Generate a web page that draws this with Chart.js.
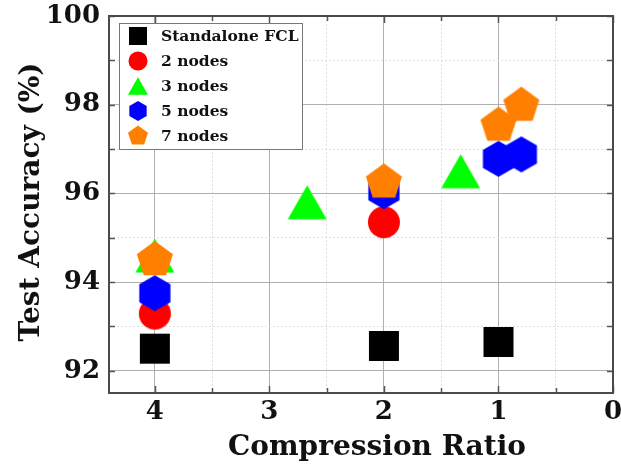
<!DOCTYPE html>
<html>
<head>
<meta charset="utf-8">
<script src="https://cdn.jsdelivr.net/npm/chart.js@4.4.0/dist/chart.umd.min.js"></script>
<style>
html, body { margin: 0; padding: 0; background: #fff; }
</style>
</head>
<body>
<canvas id="accChart" width="621" height="466"></canvas>
<script>
// values
const seriesNames = ['Standalone FCL', '2 nodes', '3 nodes', '5 nodes', '7 nodes'];
const fclX = [4, 2, 1];
const fclY = [92.5, 92.56, 92.65];
const n2X = [4, 2];
const n2Y = [93.29, 95.35];
const n3X = [4, 2.67, 1.33];
const n3Y = [94.6, 95.8, 96.5];
const n5X = [4, 2, 1, 0.8];
const n5Y = [93.75, 96.05, 96.78, 96.88];
const n7X = [4, 2, 1, 0.8];
const n7Y = [94.5, 96.25, 97.53, 97.98];

const xTickValues = [0, 0.5, 1, 1.5, 2, 2.5, 3, 3.5, 4];
const yTickValues = [92, 93, 94, 95, 96, 97, 98, 99, 100];

// look of each series
const seriesColors = ['#000000', '#ff0000', '#00ff00', '#0000ff', '#ff8000'];
const seriesShapes = ['square', 'circle', 'triangle', 'hexagon', 'pentagon'];
const markerSize = { square: 15, circle: 16, triangle: 19.5, hexagon: 18, pentagon: 19 };
const legendSize = { square: 9, circle: 9.5, triangle: 10, hexagon: 10, pentagon: 10.5 };

const FONT = '"DejaVu Serif", serif';

function shapePath(ctx, kind, cx, cy, s) {
  ctx.beginPath();
  if (kind === 'square') {
    ctx.rect(cx - s, cy - s, 2 * s, 2 * s);
  } else if (kind === 'circle') {
    ctx.arc(cx, cy, s, 0, Math.PI * 2);
  } else if (kind === 'triangle') {
    let h = s * 0.87;
    ctx.moveTo(cx, cy - h);
    ctx.lineTo(cx + s, cy + h);
    ctx.lineTo(cx - s, cy + h);
  } else {
    let n = kind === 'hexagon' ? 6 : 5;
    for (let i = 0; i < n; i++) {
      let a = -Math.PI / 2 + i * 2 * Math.PI / n;
      let px = cx + s * Math.cos(a), py = cy + s * Math.sin(a);
      if (i === 0) ctx.moveTo(px, py); else ctx.lineTo(px, py);
    }
  }
  ctx.closePath();
}

function makeMarker(kind, color, s) {
  const c = document.createElement('canvas');
  const d = Math.ceil(s * 2 + 4);
  c.width = d; c.height = d;
  const g = c.getContext('2d');
  g.fillStyle = color;
  shapePath(g, kind, d / 2, d / 2, s);
  g.fill();
  return c;
}

function toPoints(xs, ys) {
  return xs.map((x, i) => ({ x: x, y: ys[i] }));
}

const seriesData = [
  toPoints(fclX, fclY),
  toPoints(n2X, n2Y),
  toPoints(n3X, n3Y),
  toPoints(n5X, n5Y),
  toPoints(n7X, n7Y)
];

// later series are painted on top (orange over blue over red ...)
const datasets = seriesNames.map((name, i) => ({
  label: name,
  data: seriesData[i],
  order: seriesNames.length - i,
  pointStyle: makeMarker(seriesShapes[i], seriesColors[i], markerSize[seriesShapes[i]]),
  backgroundColor: seriesColors[i],
  borderColor: seriesColors[i],
  showLine: false
}));

const xMajor = v => Number.isInteger(v);
const yMajor = v => v % 2 === 0;

// frame, inward ticks, legend box and axis titles
const decorPlugin = {
  id: 'decor',
  beforeDatasetsDraw(chart) {
    const ctx = chart.ctx, a = chart.chartArea;
    const xs = chart.scales.x, ys = chart.scales.y;
    ctx.save();
    ctx.strokeStyle = '#555';
    ctx.lineWidth = 1.5;
    xTickValues.forEach(v => {
      let px = Math.round(xs.getPixelForValue(v)) + 0.5;
      let len = xMajor(v) ? 7 : 5;
      ctx.beginPath();
      ctx.moveTo(px, a.bottom); ctx.lineTo(px, a.bottom - len);
      ctx.moveTo(px, a.top); ctx.lineTo(px, a.top + len);
      ctx.stroke();
    });
    yTickValues.forEach(v => {
      let py = Math.round(ys.getPixelForValue(v)) + 0.5;
      ctx.beginPath();
      ctx.moveTo(a.left, py); ctx.lineTo(a.left + 6, py);
      ctx.moveTo(a.right, py); ctx.lineTo(a.right - 6, py);
      ctx.stroke();
    });
    ctx.lineWidth = 2;
    ctx.strokeStyle = '#4a4a4a';
    ctx.strokeRect(a.left, a.top, a.right - a.left, a.bottom - a.top);
    ctx.restore();
  },
  afterDraw(chart) {
    const ctx = chart.ctx;
    ctx.save();
    // legend
    ctx.fillStyle = '#fff';
    ctx.fillRect(119.5, 23.5, 183, 126);
    ctx.strokeStyle = '#777';
    ctx.lineWidth = 1;
    ctx.strokeRect(119.5, 23.5, 183, 126);
    chart.data.datasets.forEach((ds, i) => {
      let y = 36 + i * 25;
      ctx.fillStyle = seriesColors[i];
      shapePath(ctx, seriesShapes[i], 138, y, legendSize[seriesShapes[i]]);
      ctx.fill();
      ctx.fillStyle = '#111';
      ctx.font = 'bold 15.5px ' + FONT;
      ctx.textAlign = 'left';
      ctx.textBaseline = 'middle';
      ctx.fillText(ds.label, 161, y + 1);
    });
    // axis titles
    ctx.fillStyle = '#111';
    ctx.font = 'bold 28px ' + FONT;
    ctx.textAlign = 'center';
    ctx.textBaseline = 'alphabetic';
    ctx.fillText('Compression Ratio', 377, 455);
    ctx.translate(39, 202);
    ctx.rotate(-Math.PI / 2);
    ctx.fillText('Test Accuracy (%)', 0, 0);
    ctx.restore();
  }
};

const gridColor = major => c => (c.tick && major(c.tick.value)) ? '#b0b0b0' : '#e0e0e0';
const gridDash = major => c => (c.tick && !major(c.tick.value)) ? [2, 2] : [];

new Chart(document.getElementById('accChart'), {
  type: 'scatter',
  data: { datasets: datasets },
  options: {
    responsive: false,
    animation: false,
    layout: { padding: { top: 16, right: 8, left: 0, bottom: 0 } },
    plugins: {
      legend: { display: false },
      tooltip: { enabled: false }
    },
    scales: {
      x: {
        type: 'linear',
        reverse: true,
        min: 0,
        max: 4.4,
        afterBuildTicks: s => { s.ticks = xTickValues.map(v => ({ value: v })); },
        afterFit: s => { s.height = 73; s.paddingLeft = 0; s.paddingRight = 0; },
        grid: { color: gridColor(xMajor), drawTicks: false },
        border: { display: false, dash: gridDash(xMajor) },
        ticks: {
          padding: 4,
          color: '#111',
          font: { family: FONT, size: 26, weight: 'bold' },
          callback: v => xMajor(v) ? String(v) : ''
        }
      },
      y: {
        type: 'linear',
        min: 91.5,
        max: 100,
        afterBuildTicks: s => { s.ticks = yTickValues.map(v => ({ value: v })); },
        afterFit: s => { s.width = 109; s.paddingTop = 0; s.paddingBottom = 0; },
        grid: { color: gridColor(yMajor), drawTicks: false },
        border: { display: false, dash: gridDash(yMajor) },
        ticks: {
          padding: 9,
          color: '#111',
          font: { family: FONT, size: 26, weight: 'bold' },
          callback: v => yMajor(v) ? String(v) : ''
        }
      }
    }
  },
  plugins: [decorPlugin]
});
</script>
</body>
</html>
